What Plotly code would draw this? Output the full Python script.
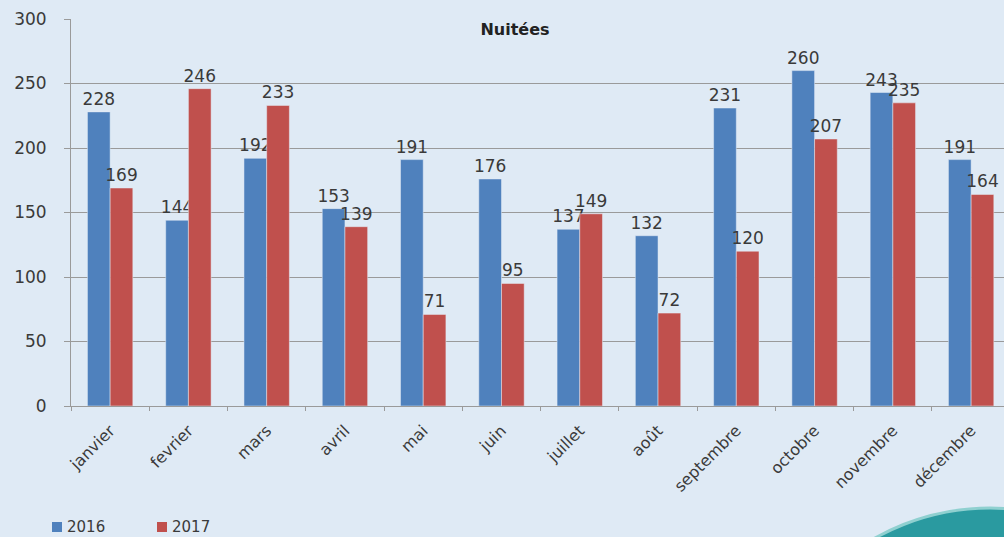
import plotly.graph_objects as go

months = ["janvier", "fevrier", "mars", "avril", "mai", "juin", "juillet",
          "août", "septembre", "octobre", "novembre", "décembre"]
v2016 = [228, 144, 192, 153, 191, 176, 137, 132, 231, 260, 243, 191]
v2017 = [169, 246, 233, 139, 71, 95, 149, 72, 120, 207, 235, 164]
series_names = ["2016", "2017"]
series_colors = ["#4f81bd", "#c0504d"]
y_ticks = [0, 50, 100, 150, 200, 250, 300]

W, H = 1004, 537
L, T, B = 71, 19, 131
pw, ph = W - L, H - T - B

def px(x):
    return (x - L) / pw

def py(y):
    return (H - B - y) / ph

FONT = "DejaVu Sans, Verdana, sans-serif"
TXT = "#3a3a3a"
label_font = dict(size=17, color=TXT, family=FONT)

fig = go.Figure()
for name, vals, col in zip(series_names, [v2016, v2017], series_colors):
    fig.add_trace(go.Bar(x=months, y=vals, name=name, marker_color=col,
                         text=vals, textposition="outside", cliponaxis=False,
                         constraintext="none", textfont=label_font, showlegend=False))

# manual legend at the very bottom-left
leg_x = [52, 157]
for lx, name, col in zip(leg_x, series_names, series_colors):
    fig.add_shape(type="rect", xref="paper", yref="paper",
                  x0=px(lx), x1=px(lx + 10), y0=py(532), y1=py(522),
                  fillcolor=col, line=dict(width=0))
    fig.add_annotation(xref="paper", yref="paper", x=px(lx + 13), y=py(527),
                       xanchor="left", yanchor="middle", text=name, showarrow=False,
                       font=dict(size=15, color=TXT, family=FONT))

# teal decorative circle bottom-right
cx, cy, r = 990, 743, 235
fig.add_shape(type="circle", xref="paper", yref="paper",
              x0=px(cx - r), x1=px(cx + r), y0=py(cy + r), y1=py(cy - r),
              fillcolor="#2a9aa0", line=dict(color="#8fd0d0", width=3), layer="above")

fig.update_layout(
    width=W, height=H,
    margin=dict(l=L, r=0, t=T, b=B),
    paper_bgcolor="#dfeaf5", plot_bgcolor="#dfeaf5",
    barmode="group", bargap=0.42, bargroupgap=0,
    font=dict(family=FONT, color=TXT),
    title=dict(text="<b>Nuitées</b>", x=515 / W, xanchor="center", y=1 - 29 / H,
               yanchor="middle", font=dict(size=16, color="#222222", family=FONT)),
    showlegend=False,
    xaxis=dict(range=[-0.5, 11.42], tickangle=-45, tickfont=dict(size=16, color=TXT),
               showline=True, linecolor="#9a9a9a", ticks="outside", ticklen=4,
               tickcolor="#9a9a9a", showgrid=False, tickson="boundaries",
               ticklabelstandoff=8),
    yaxis=dict(range=[0, 300], tickvals=y_ticks, tickfont=dict(size=17, color=TXT),
               showgrid=True, gridcolor="#9a9a9a", gridwidth=1, showline=True,
               linecolor="#9a9a9a", zeroline=False, ticks="outside", ticklen=6,
               tickcolor="#9a9a9a", ticklabelstandoff=14),
)

fig.write_html("out.html", config={"displayModeBar": False},
               post_script="document.body.style.margin='0';")
